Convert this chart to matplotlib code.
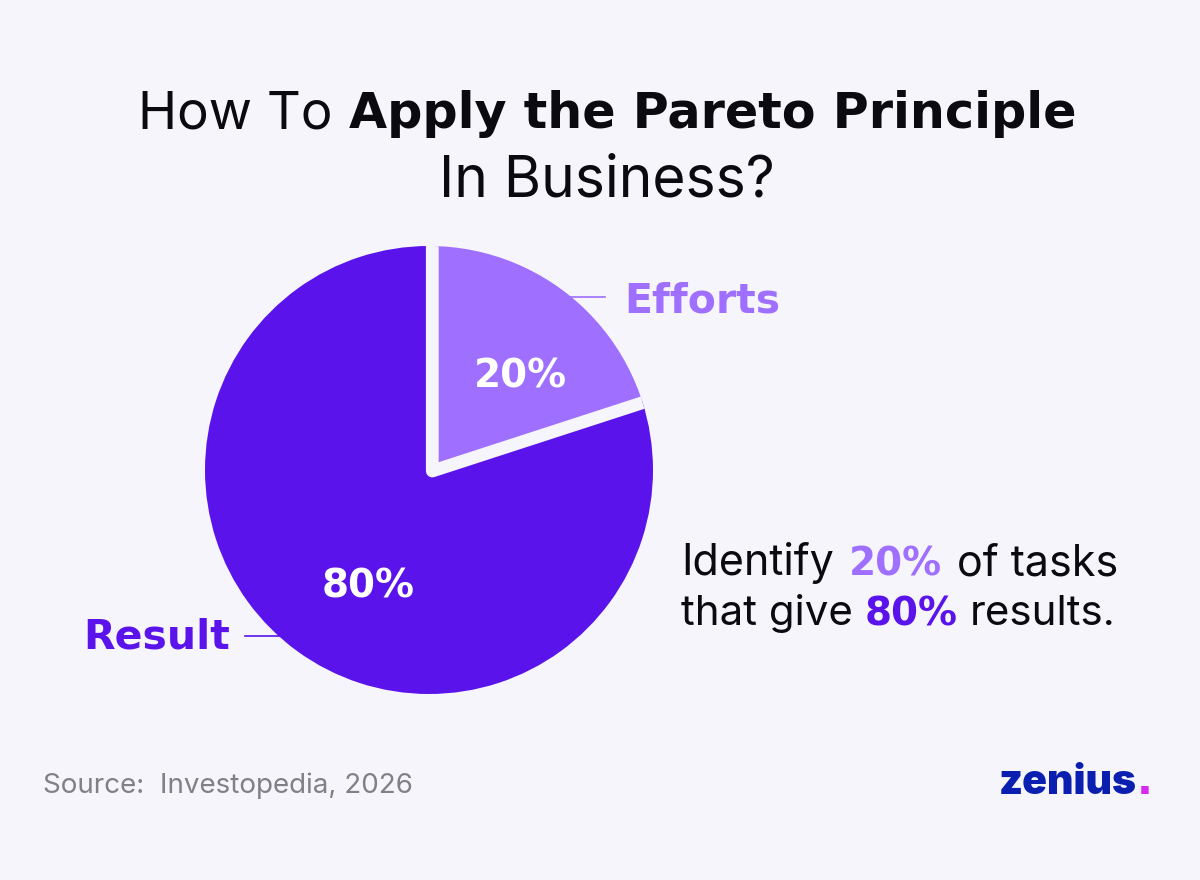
import matplotlib
matplotlib.use("Agg")
import matplotlib.pyplot as plt
from matplotlib.patches import Circle

labels = ["Efforts", "Result"]
shares = [20, 80]
share_text = ["20%", "80%"]
title_parts = ["How To", "Apply the Pareto Principle"]
title_second = "In Business?"
note_one = ["Identify", "20%", "of tasks"]
note_two = ["that give", "80%", "results."]
source = "Source:  Investopedia, 2026"
brand = "zenius"

BG = "#f5f5fb"
DARK = "#5a14eb"
LIGHT = "#9f6fff"
INK = "#0b0b0f"
BOLD = "DejaVu Sans"

plt.rcParams["font.family"] = ["Inter", "DejaVu Sans"]

fig = plt.figure(figsize=(12, 8.8), dpi=100, facecolor=BG)
ax = fig.add_axes([0, 0, 1, 1])


def Y(py):
    # reference pixels count from the top
    return 880 - py


def put_runs(runs, x, base, gap, center=False):
    # runs are (text, color, style, size), placed one after the other
    r = fig.canvas.get_renderer()
    items = []
    for s, c, style, size in runs:
        if style == "bold":
            t = ax.text(x, Y(base), s, color=c, fontweight="bold", family=BOLD, fontsize=size, va="baseline", ha="left")
        else:
            t = ax.text(x, Y(base), s, color=c, fontweight=style, fontsize=size, va="baseline", ha="left")
        items.append((t, t.get_window_extent(r).width))
    total = sum(i[1] for i in items) + gap * (len(items) - 1)
    pos = x - total / 2 if center else x
    for t, wd in items:
        t.set_x(pos)
        pos += wd + gap


# pie, light slice is moved a little and its thick edge makes the gap
wedges, _ = ax.pie(shares, colors=[LIGHT, DARK], startangle=90, counterclock=False,
                   radius=224, center=(429, Y(470)), frame=False)
wedges[1].set_zorder(2)
wedges[0].set_zorder(3)
wedges[0].set_center((432.3, Y(471)))
wedges[0].set_radius(245)
wedges[0].set_edgecolor(BG)
wedges[0].set_linewidth(12.8 * 0.72)
wedges[0].set_joinstyle("round")
clip = Circle((429, Y(470)), 224, transform=ax.transData)
wedges[0].set_clip_on(True)
wedges[0].set_clip_path(clip)

ax.set_xlim(0, 1200)
ax.set_ylim(0, 880)
ax.set_aspect("auto")
ax.axis("off")

# leader lines
ax.plot([560, 605], [Y(297), Y(297)], color=LIGHT, lw=1.2, zorder=1)
ax.plot([245, 290], [Y(636), Y(636)], color=DARK, lw=1.2, zorder=1)

put_runs([(title_parts[0], INK, "normal", 38), (title_parts[1], INK, "bold", 35.5)], 607, 128, 17, center=True)
put_runs([(title_second, INK, "normal", 41)], 607, 196, 0, center=True)

for lab, x, base, col in zip(labels, [624, 83], [312, 648], [LIGHT, DARK]):
    ax.text(x, Y(base), lab, color=col, fontweight="bold", family=BOLD, fontsize=29.5, va="baseline", zorder=4)
for txt, x, base in zip(share_text, [520, 368], [387, 597]):
    ax.text(x, Y(base), txt, color="white", fontweight="bold", family=BOLD, fontsize=28, ha="center", va="baseline", zorder=4)

put_runs([(note_one[0], INK, "normal", 31), (note_one[1], LIGHT, "bold", 28), (note_one[2], INK, "normal", 31)], 681, 575, 15)
put_runs([(note_two[0], INK, "normal", 30.3), (note_two[1], DARK, "bold", 28), (note_two[2], INK, "normal", 30.3)], 681, 625, 12)

ax.text(43, Y(793), source, color="#808085", fontsize=20, va="baseline")
put_runs([(brand, "#0a1fb0", "black", 29.5), (".", "#d829f2", "bold", 30)], 999, 794, 0)

fig.savefig("out.png", dpi=100, facecolor=BG)
